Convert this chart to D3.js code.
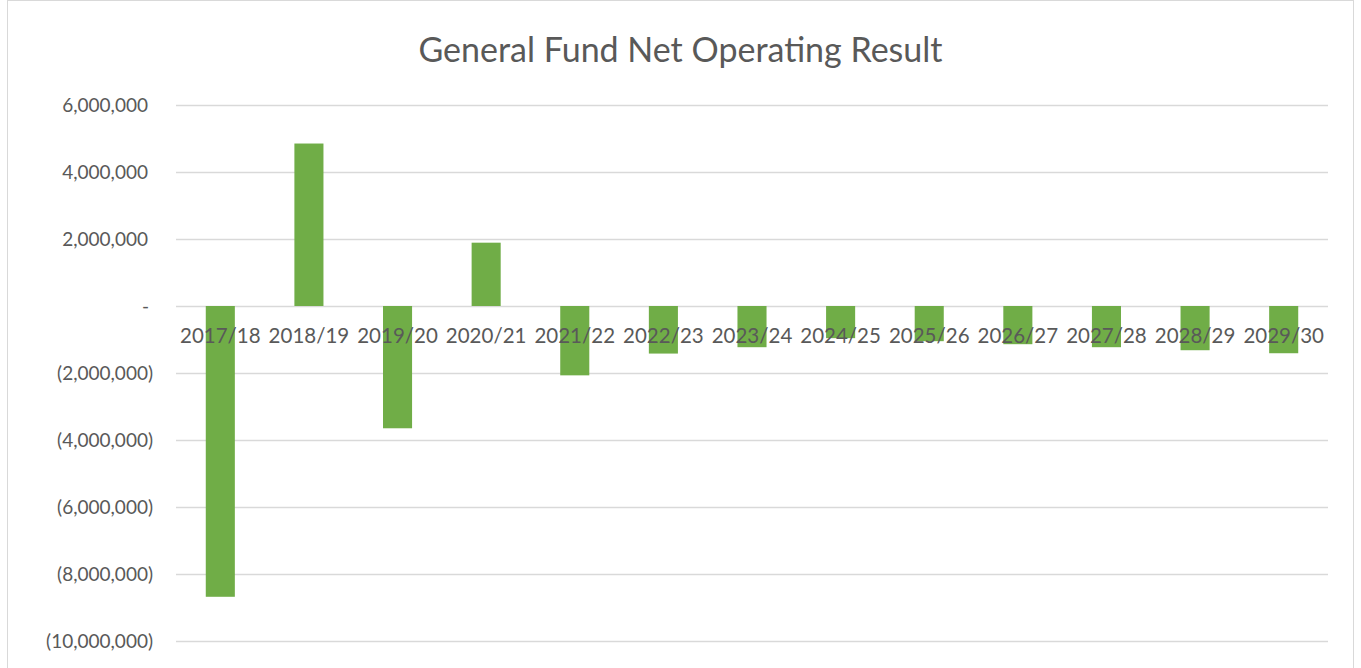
<!DOCTYPE html>
<html>
<head>
<meta charset="utf-8">
<script src="https://cdn.jsdelivr.net/npm/d3@7"></script>
<style>
  body { margin: 0; background: #fff; }
  text { font-family: Lato, "Open Sans", sans-serif; fill: #595959; font-variant-numeric: tabular-nums; }
</style>
</head>
<body>
<div id="chart"></div>
<script>
(function(d3) {
  'use strict';

  var width = 1361;
  var height = 668;

  // data
  var categories = ['2017/18', '2018/19', '2019/20', '2020/21', '2021/22', '2022/23', '2023/24',
    '2024/25', '2025/26', '2026/27', '2027/28', '2028/29', '2029/30'];
  var netResult = [-8680000, 4850000, -3650000, 1890000, -2070000, -1420000, -1230000,
    -960000, -1050000, -1140000, -1230000, -1320000, -1410000];
  var yTicks = [6000000, 4000000, 2000000, 0, -2000000, -4000000, -6000000, -8000000, -10000000];
  var title = 'General Fund Net Operating Result';

  var margin = { top: 105, right: 33, bottom: 27, left: 176 };

  var svg = d3.select('#chart')
    .append('svg')
    .attr('width', width)
    .attr('height', height);

  // chart frame
  svg.append('rect')
    .attr('x', 7.5)
    .attr('y', 0.5)
    .attr('width', width - 15)
    .attr('height', height + 10)
    .attr('fill', 'none')
    .attr('stroke', '#d9d9d9');

  var x = d3.scaleBand()
    .domain(categories)
    .range([margin.left, width - margin.right])
    .paddingInner(0.672)
    .paddingOuter(0.336);

  var y = d3.scaleLinear()
    .domain([-10000000, 6000000])
    .range([height - margin.bottom, margin.top]);

  var fmt = d3.format(',');
  function accounting(v) {
    if (v === 0) return '-';
    return v < 0 ? '(' + fmt(-v) + ')' : fmt(v);
  }

  // gridlines
  svg.append('g')
    .selectAll('line')
    .data(yTicks)
    .enter()
    .append('line')
    .attr('x1', margin.left)
    .attr('x2', width - margin.right)
    .attr('y1', function(d) { return Math.round(y(d)) + 0.5; })
    .attr('y2', function(d) { return Math.round(y(d)) + 0.5; })
    .attr('stroke', '#d9d9d9')
    .attr('stroke-width', 1.5);

  // y labels (accounting style: positives leave room for the closing bracket)
  svg.append('g')
    .selectAll('text')
    .data(yTicks)
    .enter()
    .append('text')
    .attr('x', function(d) { return d < 0 ? 153 : (d === 0 ? 149 : 148); })
    .attr('y', function(d) { return y(d); })
    .attr('dy', '0.36em')
    .attr('text-anchor', 'end')
    .style('font-size', '19px')
    .text(accounting);

  // bars
  svg.append('g')
    .selectAll('rect')
    .data(netResult)
    .enter()
    .append('rect')
    .attr('x', function(d, i) { return x(categories[i]); })
    .attr('width', x.bandwidth())
    .attr('y', function(d) { return y(Math.max(0, d)); })
    .attr('height', function(d) { return Math.abs(y(d) - y(0)); })
    .attr('fill', '#70ad47');

  // category labels sit just under the zero line, over the bars
  svg.append('g')
    .selectAll('text')
    .data(categories)
    .enter()
    .append('text')
    .attr('x', function(d) { return x(d) + x.bandwidth() / 2; })
    .attr('y', y(0) + 37)
    .attr('text-anchor', 'middle')
    .style('font-size', '20.5px')
    .text(function(d) { return d; });

  svg.append('text')
    .attr('x', width / 2)
    .attr('y', 62)
    .attr('text-anchor', 'middle')
    .style('font-size', '34px')
    .text(title);

})(window.d3);
</script>
</body>
</html>
